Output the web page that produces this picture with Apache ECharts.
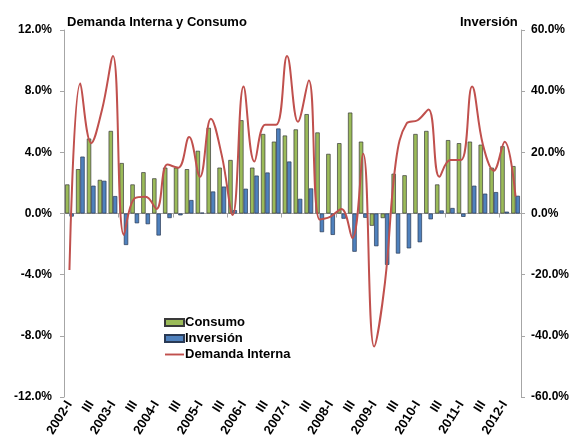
<!DOCTYPE html>
<html>
<head>
<meta charset="utf-8">
<script src="https://cdn.jsdelivr.net/npm/echarts@6/dist/echarts.min.js"></script>
<style>
  html, body { margin: 0; padding: 0; background: #fff; }
  #chart { width: 574px; height: 447px; }
</style>
</head>
<body>
<div id="chart"></div>
<script>
// trimestres 2002-I .. 2012-II
var quarters = ['I', 'II', 'III', 'IV'];
var categories = [];
for (var y = 2002; y <= 2012; y++) {
  for (var q = 0; q < 4; q++) {
    if (y == 2012 && q > 1) break;
    categories.push(q == 0 ? y + '-I' : quarters[q]);
  }
}

// Consumo (eje izquierdo, %)
var consumo = [1.9, 2.9, 4.9, 2.2, 5.4, 3.3, 1.9, 2.7, 2.3, 3.0,
  3.0, 2.9, 4.1, 5.6, 3.0, 3.5, 6.1, 3.0, 5.2, 4.7,
  5.1, 5.5, 6.5, 5.3, 3.9, 4.6, 6.6, 4.7, -0.8, -0.3,
  2.6, 2.5, 5.2, 5.4, 1.9, 4.8, 4.6, 4.7, 4.5, 3.0,
  4.4, 3.1];

// Inversion (eje derecho, %)
var inversion = [-1.0, 18.6, 9.1, 10.7, 5.7, -10.3, -3.2, -3.5, -7.2, -1.5,
  -0.6, 4.4, 0.3, 7.2, 8.8, 1.1, 8.1, 12.4, 13.4, 27.8,
  17.0, 4.8, 8.2, -6.1, -7.0, -1.7, -12.5, -1.4, -10.7, -16.8,
  -13.1, -11.4, -9.4, -1.9, 1.0, 1.8, -1.1, 9.1, 6.5, 7.0,
  0.6, 5.8];

// Demanda interna (eje izquierdo, %)
var demanda = [-3.7, 8.5, 4.6, 6.8, 10.3, -1.4, 1.0, 1.1, 0.3, 3.2,
  3.0, 5.0, 2.4, 6.2, 3.8, -0.1, 8.3, 3.4, 5.8, 5.8,
  10.3, 6.0, 8.7, -0.4, -0.2, 0.3, -1.6, 3.9, -8.7, -4.5,
  3.4, 5.9, 6.1, 6.8, 2.4, 3.5, 3.5, 8.3, 4.5, 2.8,
  4.7, 1.1];

var font = 'Liberation Sans, Arial, sans-serif';
var chart = echarts.init(document.getElementById('chart'));

var option = {
  backgroundColor: '#ffffff',
  animation: false,
  textStyle: { fontFamily: font },
  title: [{
    text: 'Demanda Interna y Consumo',
    left: 62, top: 11,
    textStyle: { fontSize: 13, fontWeight: 'bold', color: '#000', fontFamily: font }
  }, {
    text: 'Inversión',
    left: 455, top: 11,
    textStyle: { fontSize: 13, fontWeight: 'bold', color: '#000', fontFamily: font }
  }],
  legend: {
    orient: 'vertical',
    left: 159, top: 311,
    itemGap: 3,
    itemWidth: 19,
    itemHeight: 7,
    textStyle: { fontSize: 13, fontWeight: 'bold', color: '#000', padding: [0, 0, 0, -4] },
    data: [
      { name: 'Consumo', icon: 'rect' },
      { name: 'Inversión', icon: 'rect' },
      { name: 'Demanda Interna', icon: 'path://M0,0H20V2H0Z' }
    ]
  },
  grid: { left: 64, right: 53, top: 30, bottom: 50 },
  xAxis: [{
    type: 'category',
    data: categories,
    position: 'bottom',
    axisLine: { onZero: false, show: false },
    axisTick: { show: false },
    axisLabel: {
      interval: 1, rotate: 58, margin: 5,
      fontSize: 13, fontWeight: 'bold', color: '#000'
    }
  }, {
    type: 'category',
    data: categories,
    position: 'bottom',
    axisLine: { onZero: true, lineStyle: { color: '#a6a6a6', width: 1 } },
    axisTick: { show: true, length: 4, lineStyle: { color: '#a6a6a6' } },
    axisLabel: { show: false }
  }],
  yAxis: [{
    type: 'value',
    min: -12, max: 12, interval: 4,
    axisLine: { show: true, lineStyle: { color: '#a6a6a6' } },
    axisTick: { show: true, length: 4, lineStyle: { color: '#a6a6a6' } },
    splitLine: { show: false },
    axisLabel: {
      margin: 12, fontSize: 12, fontWeight: 'bold', color: '#000',
      formatter: function (v) { return v.toFixed(1) + '%'; }
    }
  }, {
    type: 'value',
    min: -60, max: 60, interval: 20,
    position: 'right',
    axisLine: { show: true, lineStyle: { color: '#a6a6a6' } },
    axisTick: { show: true, length: 4, lineStyle: { color: '#a6a6a6' } },
    splitLine: { show: false },
    axisLabel: {
      margin: 10, fontSize: 12, fontWeight: 'bold', color: '#000',
      formatter: function (v) { return v.toFixed(1) + '%'; }
    }
  }],
  series: [{
    name: 'Consumo',
    type: 'bar',
    xAxisIndex: 0, yAxisIndex: 0,
    data: consumo,
    barGap: '0%',
    barCategoryGap: '20%',
    itemStyle: { color: '#9bbb59', borderColor: '#3a3a3a', borderWidth: 0.7 }
  }, {
    name: 'Inversión',
    type: 'bar',
    xAxisIndex: 0, yAxisIndex: 1,
    data: inversion,
    barGap: '0%',
    barCategoryGap: '20%',
    itemStyle: { color: '#4f81bd', borderColor: '#2a3a55', borderWidth: 0.7 }
  }, {
    name: 'Demanda Interna',
    type: 'line',
    xAxisIndex: 0, yAxisIndex: 0,
    data: demanda,
    smooth: 0.4,
    symbol: 'none',
    lineStyle: { color: '#c0504d', width: 2 },
    itemStyle: { color: '#c0504d' },
    z: 5
  }]
};
chart.setOption(option);
</script>
</body>
</html>
